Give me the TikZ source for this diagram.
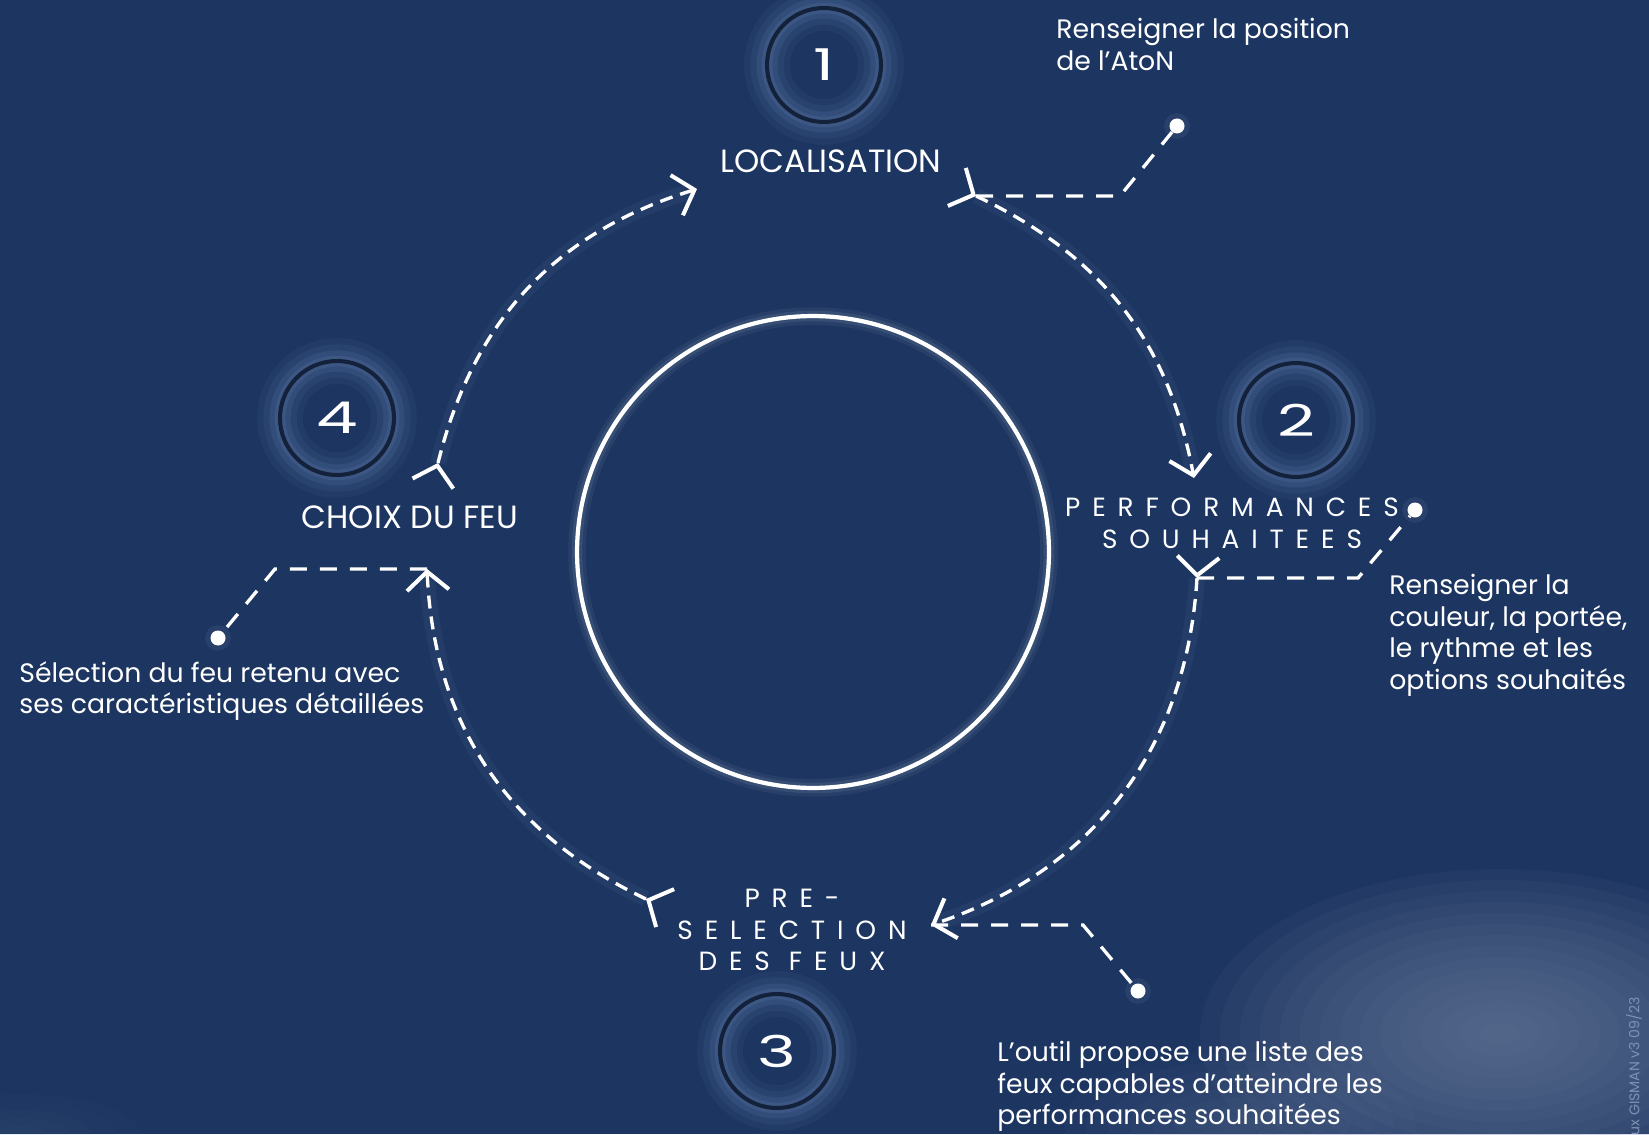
\documentclass[tikz,border=0pt]{standalone}
\usepackage{fontspec}
\setmainfont{Poppins}
\newfontfamily\digitfont{Poppins}[FakeStretch=1.5]
\usetikzlibrary{arrows.meta, decorations.markings}
\definecolor{navyBg}{RGB}{28,53,97}
\definecolor{navyRing}{RGB}{20,33,58}
\definecolor{haloBlue}{RGB}{120,150,195}
\definecolor{cloudBlue}{RGB}{112,130,162}
\definecolor{stampGrey}{RGB}{125,145,180}
\tikzset{flowTip/.tip={Straight Barb[length=0.37cm, width=0.84cm, line width=2.3pt 0 1]}}
\tikzstyle{numCircle} = [circle, 
			draw = navyRing, 
			line width = 2.3pt, 
			minimum size = 2.28cm, 
			text = white, 
			font = \digitfont\fontsize{25}{25}\selectfont, 
			preaction = {draw = haloBlue, line width = 26pt, opacity = 0.07}, 
			preaction = {draw = haloBlue, line width = 19pt, opacity = 0.09}, 
			preaction = {draw = haloBlue, line width = 12pt, opacity = 0.12}, 
			preaction = {draw = haloBlue, line width = 6pt, opacity = 0.15}]
\tikzstyle{hubRing} = [circle, 
			draw = white, 
			line width = 2.4pt, 
			minimum size = 9.44cm, 
			preaction = {draw = white, line width = 10pt, opacity = 0.05}, 
			preaction = {draw = white, line width = 6pt, opacity = 0.08}]
\tikzstyle{stageLabel} = [text = white, 
			inner sep = 0pt, 
			font = \fontsize{18.3}{21}\selectfont]
\tikzstyle{spacedLabel} = [stageLabel, 
			align = center, 
			font = \fontsize{15}{18}\selectfont\addfontfeature{LetterSpace=45}]
\tikzstyle{note} = [text = white, 
			inner sep = 0pt, 
			align = left, 
			anchor = north west, 
			font = \fontsize{15.2}{18}\selectfont]
\tikzstyle{dot} = [circle, 
			fill = white, 
			inner sep = 0pt, 
			minimum size = 0.3cm, 
			preaction = {fill = white, opacity = 0.06, draw = white, line width = 6pt}]
\tikzstyle{flow} = [draw = white, 
			line width = 1.9pt, 
			dash pattern = on 7.4pt off 4.6pt, 
			-{flowTip}, 
			preaction = {draw = haloBlue, solid, line width = 9pt, opacity = 0.08}, 
			postaction = {decorate}, 
			decoration = {markings, 
				mark = at position 0 with {\arrow{flowTip}}}]
\tikzstyle{leader} = [draw = white, 
			line width = 1.9pt, 
			dash pattern = on 9.7pt off 7.4pt]
\begin{document}
\begin{tikzpicture}[x = 0.02cm, y = 0.02cm, auto]
	\useasboundingbox (0,0) rectangle (1649,1134);
	\fill [navyBg] (0,0) rectangle (1649,1134);
	\foreach \k in {1,...,15}
		\fill [cloudBlue, opacity = 0.075] (1500,100) ellipse ({20*\k} and {11*\k});
	\foreach \k in {1,...,8}
		\fill [cloudBlue, opacity = 0.05] (1240,10) ellipse ({22*\k} and {9*\k});
	\foreach \k in {1,...,5}
		\fill [cloudBlue, opacity = 0.03] (20,0) ellipse ({24*\k} and {8*\k});

	\node [hubRing] (hub) at (813,582) {};

	\node [numCircle] (numOne) at (824,1069) {1};
	\node [numCircle] (numTwo) at (1296,714) {2};
	\node [numCircle] (numThree) at (777,83) {3};
	\node [numCircle] (numFour) at (337,716) {4};

	\node [stageLabel] (locLabel) at (831,973) {LOCALISATION};
	\node [spacedLabel] (perfLabel) at (1232,611) {PERFORMANCES\\SOUHAITEES};
	\node [spacedLabel] (preLabel) at (792,204) {PRE-\\SELECTION\\DES FEUX};
	\node [stageLabel] (choixLabel) at (410,617) {CHOIX DU FEU};

	\node [note] (locNote) at (1056,1116) {Renseigner la position\\de l’AtoN};
	\node [note] (perfNote) at (1389,560) {Renseigner la\\couleur, la portée,\\le rythme et les\\options souhaités};
	\node [note] (choixNote) at (19,473) {Sélection du feu retenu avec\\ses caractéristiques détaillées};
	\node [note] (preNote) at (997,93) {L’outil propose une liste des\\feux capables d’atteindre les\\performances souhaitées};

	\coordinate (locOut) at (976,938);
	\coordinate (perfIn) at (1194,656);
	\coordinate (perfOut) at (1197,556);
	\coordinate (preIn) at (931,209);
	\coordinate (preOut) at (646,235);
	\coordinate (choixIn) at (427,565);
	\coordinate (choixOut) at (438,671);
	\coordinate (locIn) at (697,945);

	\coordinate (locKnee) at (1120,938);
	\coordinate (perfKnee) at (1358,556);
	\coordinate (preKnee) at (1083,209);
	\coordinate (choixKnee) at (275,565);

	\node [dot] (locDot) at (1177,1008) {};
	\node [dot] (perfDot) at (1415,624) {};
	\node [dot] (preDot) at (1138,143) {};
	\node [dot] (choixDot) at (218,496) {};

	\path [flow] (locOut) to [bend left=27] (perfIn);
	\path [flow] (perfOut) to [bend left=34] (preIn);
	\path [flow] (preOut) to [bend left=31] (choixIn);
	\path [flow] (choixOut) to [bend left=29.5] (locIn);

	\path [leader] (locOut) -- (locKnee) -- (locDot);
	\path [leader] (perfOut) -- (perfKnee) -- (perfDot);
	\path [leader] (preIn) -- (preKnee) -- (preDot);
	\path [leader] (choixIn) -- (choixKnee) -- (choixDot);

	\node [rotate=90, anchor=east, text=stampGrey, inner sep=0pt, font=\fontsize{8}{8}\selectfont] (stamp) at (1634,137) {ux GISMAN v3 09/23};
\end{tikzpicture}
\end{document}
